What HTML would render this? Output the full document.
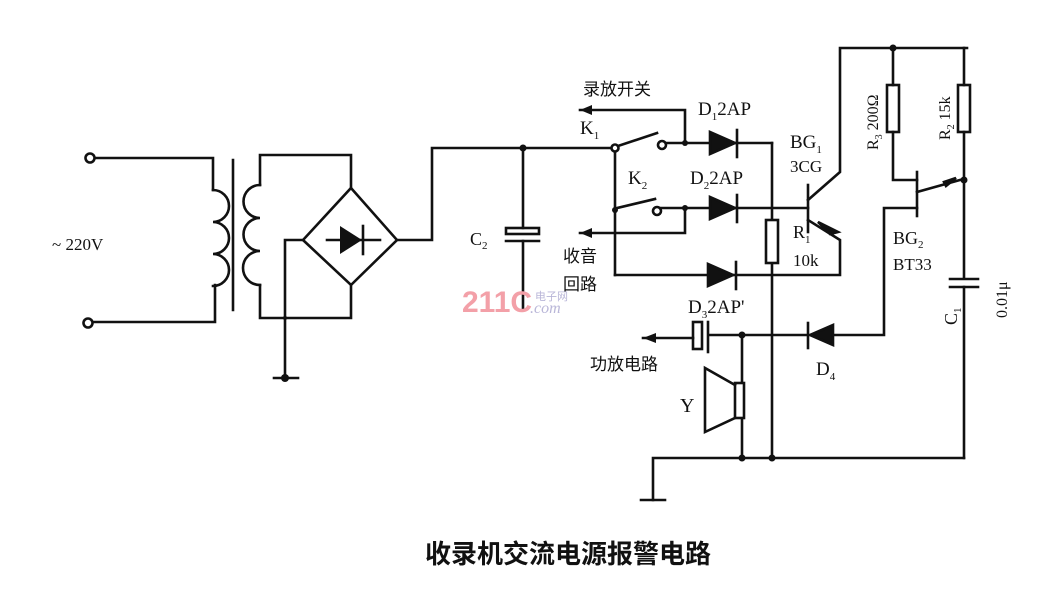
<!DOCTYPE html>
<html><head><meta charset="utf-8"><style>
html,body{margin:0;padding:0;background:#fff;}
svg{display:block;}
text{font-family:"Liberation Serif","Noto Serif CJK SC",serif;fill:#111;}
.cn{font-family:"Liberation Sans","Noto Sans CJK SC",sans-serif;}
</style></head><body>
<svg width="1056" height="599" viewBox="0 0 1056 599" xmlns="http://www.w3.org/2000/svg">
<g stroke="#111" stroke-width="2.6" fill="none" stroke-linecap="square">
<circle cx="90" cy="158" r="4.5" fill="#fff"/>
<circle cx="88" cy="323" r="4.5" fill="#fff"/>
<polyline points="95,158 213,158 213,190"/>
<polyline points="93,322 215,322 215,285"/>
<path d="M213,190 a12,12 0 0 1 0,32 a12,12 0 0 1 0,32 a12,12 0 0 1 0,32"/>
<line x1="233" y1="160" x2="233" y2="310"/>
<polyline points="260,185 260,155 351,155 351,188"/>
<path d="M260,185 a12,12 0 0 0 0,33 a12,12 0 0 0 0,33 a12,12 0 0 0 0,34"/>
<polyline points="260,285 260,318 351,318 351,285"/>
<polygon points="351,188 397,240 351,285 303,240"/>
<polyline points="303,240 285,240 285,378"/>
<line x1="274" y1="378" x2="298" y2="378"/>
<line x1="327" y1="240" x2="380" y2="240"/>
<line x1="363" y1="226" x2="363" y2="254"/>
<polyline points="397,240 432,240 432,148 615,148"/>
<line x1="523" y1="148" x2="523" y2="228"/>
<rect x="506" y="228" width="33" height="6"/>
<line x1="506" y1="241" x2="539" y2="241"/>
<line x1="523" y1="241" x2="523" y2="310"/>
<circle cx="615" cy="148" r="3.5" fill="#fff"/>
<line x1="618" y1="146" x2="657" y2="133"/>
<circle cx="662" cy="145" r="4" fill="#fff"/>
<line x1="615" y1="152" x2="615" y2="275"/>
<line x1="617" y1="208" x2="655" y2="199"/>
<circle cx="657" cy="211" r="4" fill="#fff"/>
<polyline points="580,110 685,110 685,143"/>
<polyline points="580,233 685,233 685,208"/>
<line x1="666" y1="143" x2="772" y2="143"/>
<polygon points="710,132 710,154 735,143" fill="#111"/>
<line x1="737" y1="130" x2="737" y2="157"/>
<line x1="661" y1="208" x2="808" y2="208"/>
<polygon points="710,197 710,219 735,208" fill="#111"/>
<line x1="737" y1="195" x2="737" y2="222"/>
<polyline points="615,275 840,275 840,240 808,220"/>
<polygon points="708,264 708,286 733,275" fill="#111"/>
<line x1="736" y1="262" x2="736" y2="289"/>
<line x1="772" y1="143" x2="772" y2="458"/>
<rect x="766" y="220" width="12" height="43" fill="#fff"/>
<line x1="808" y1="185" x2="808" y2="232"/>
<polyline points="808,200 840,172 840,48 967,48"/>
<polygon points="830,234 818,222 838,232" fill="#111"/>
<rect x="887" y="85" width="12" height="47"/>
<polyline points="893,48 893,85"/>
<polyline points="893,132 893,180 917,180"/>
<rect x="958" y="85" width="12" height="47"/>
<polyline points="964,48 964,85"/>
<line x1="964" y1="132" x2="964" y2="278"/>
<line x1="917" y1="172" x2="917" y2="216"/>
<line x1="917" y1="192" x2="960" y2="180"/>
<polygon points="956,178 946,186 944,182" fill="#111"/>
<polyline points="917,208 884,208 884,335 833,335"/>
<line x1="950" y1="279" x2="978" y2="279"/>
<line x1="950" y1="287" x2="978" y2="287"/>
<line x1="964" y1="287" x2="964" y2="458"/>
<polygon points="833,325 833,345 810,335" fill="#111"/>
<line x1="808" y1="323" x2="808" y2="348"/>
<line x1="710" y1="335" x2="808" y2="335"/>
<rect x="693" y="322" width="9" height="27"/>
<line x1="708" y1="322" x2="708" y2="352"/>
<line x1="643" y1="338" x2="693" y2="338"/>
<line x1="742" y1="335" x2="742" y2="458"/>
<rect x="735" y="383" width="9" height="35" fill="#fff"/>
<polyline points="735,385 705,368 705,432 735,418"/>
<polyline points="653,500 653,458 964,458"/>
<line x1="641" y1="500" x2="665" y2="500"/>
</g>
<g fill="#111">
<polygon points="340,226 340,254 362,240"/>
<circle cx="523" cy="148" r="3.5"/><circle cx="685" cy="143" r="3"/><circle cx="685" cy="208" r="3"/>
<circle cx="615" cy="210" r="3"/><circle cx="893" cy="48" r="3.5"/><circle cx="964" cy="180" r="3.5"/>
<circle cx="742" cy="335" r="3.5"/><circle cx="742" cy="458" r="3.5"/><circle cx="772" cy="458" r="3.5"/>
<circle cx="285" cy="378" r="4"/><circle cx="285" cy="318" r="2"/>
<polygon points="580,110 592,105 592,115"/><polygon points="580,233 592,228 592,238"/><polygon points="643,338 656,333 656,343"/>
</g>
<text x="52" y="250" font-size="17">~ 220V</text>
<text x="470" y="245" font-size="18">C<tspan font-size="11" dy="4">2</tspan></text>
<text class="cn" x="583" y="95" font-size="17">录放开关</text>
<text x="580" y="134" font-size="19">K<tspan font-size="11" dy="5">1</tspan></text>
<text x="698" y="115" font-size="19">D<tspan font-size="11" dy="5">1</tspan><tspan dy="-5">2AP</tspan></text>
<text x="628" y="184" font-size="19">K<tspan font-size="11" dy="5">2</tspan></text>
<text x="690" y="184" font-size="19">D<tspan font-size="11" dy="5">2</tspan><tspan dy="-5">2AP</tspan></text>
<text x="790" y="148" font-size="19">BG<tspan font-size="11" dy="5">1</tspan></text>
<text x="790" y="172" font-size="17">3CG</text>
<text x="793" y="238" font-size="18">R<tspan font-size="11" dy="5">1</tspan></text>
<text x="793" y="266" font-size="17">10k</text>
<text class="cn" x="563" y="262" font-size="17">收音</text>
<text class="cn" x="563" y="290" font-size="17">回路</text>
<text x="688" y="313" font-size="19">D<tspan font-size="11" dy="5">3</tspan><tspan dy="-5">2AP'</tspan></text>
<text class="cn" x="590" y="370" font-size="17">功放电路</text>
<text x="680" y="412" font-size="20">Y</text>
<text x="816" y="375" font-size="19">D<tspan font-size="11" dy="5">4</tspan></text>
<text x="893" y="244" font-size="18">BG<tspan font-size="11" dy="4">2</tspan></text>
<text x="893" y="270" font-size="17">BT33</text>
<text x="0" y="0" font-size="16" transform="translate(878,150) rotate(-90)">R<tspan font-size="10" dy="4">3</tspan><tspan dy="-4"> 200Ω</tspan></text>
<text x="0" y="0" font-size="16" transform="translate(950,140) rotate(-90)">R<tspan font-size="10" dy="4">2</tspan><tspan dy="-4"> 15k</tspan></text>
<text x="0" y="0" font-size="18" transform="translate(957,325) rotate(-90)">C<tspan font-size="11" dy="4">1</tspan></text>
<text x="0" y="0" font-size="16" transform="translate(1007,318) rotate(-90)">0.01μ</text>
<text x="462" y="312" font-size="30" font-weight="bold" style="fill:#f3a0a8;font-family:'Liberation Sans',sans-serif">211C</text>
<text x="535" y="300" font-size="11" style="fill:#b9b6d8" class="cn">电子网</text>
<text x="530" y="313" font-size="16" font-style="italic" style="fill:#b9b6d8">.com</text>
<text class="cn" x="425" y="563" font-size="26" font-weight="bold">收录机交流电源报警电路</text>
</svg>
</body></html>
